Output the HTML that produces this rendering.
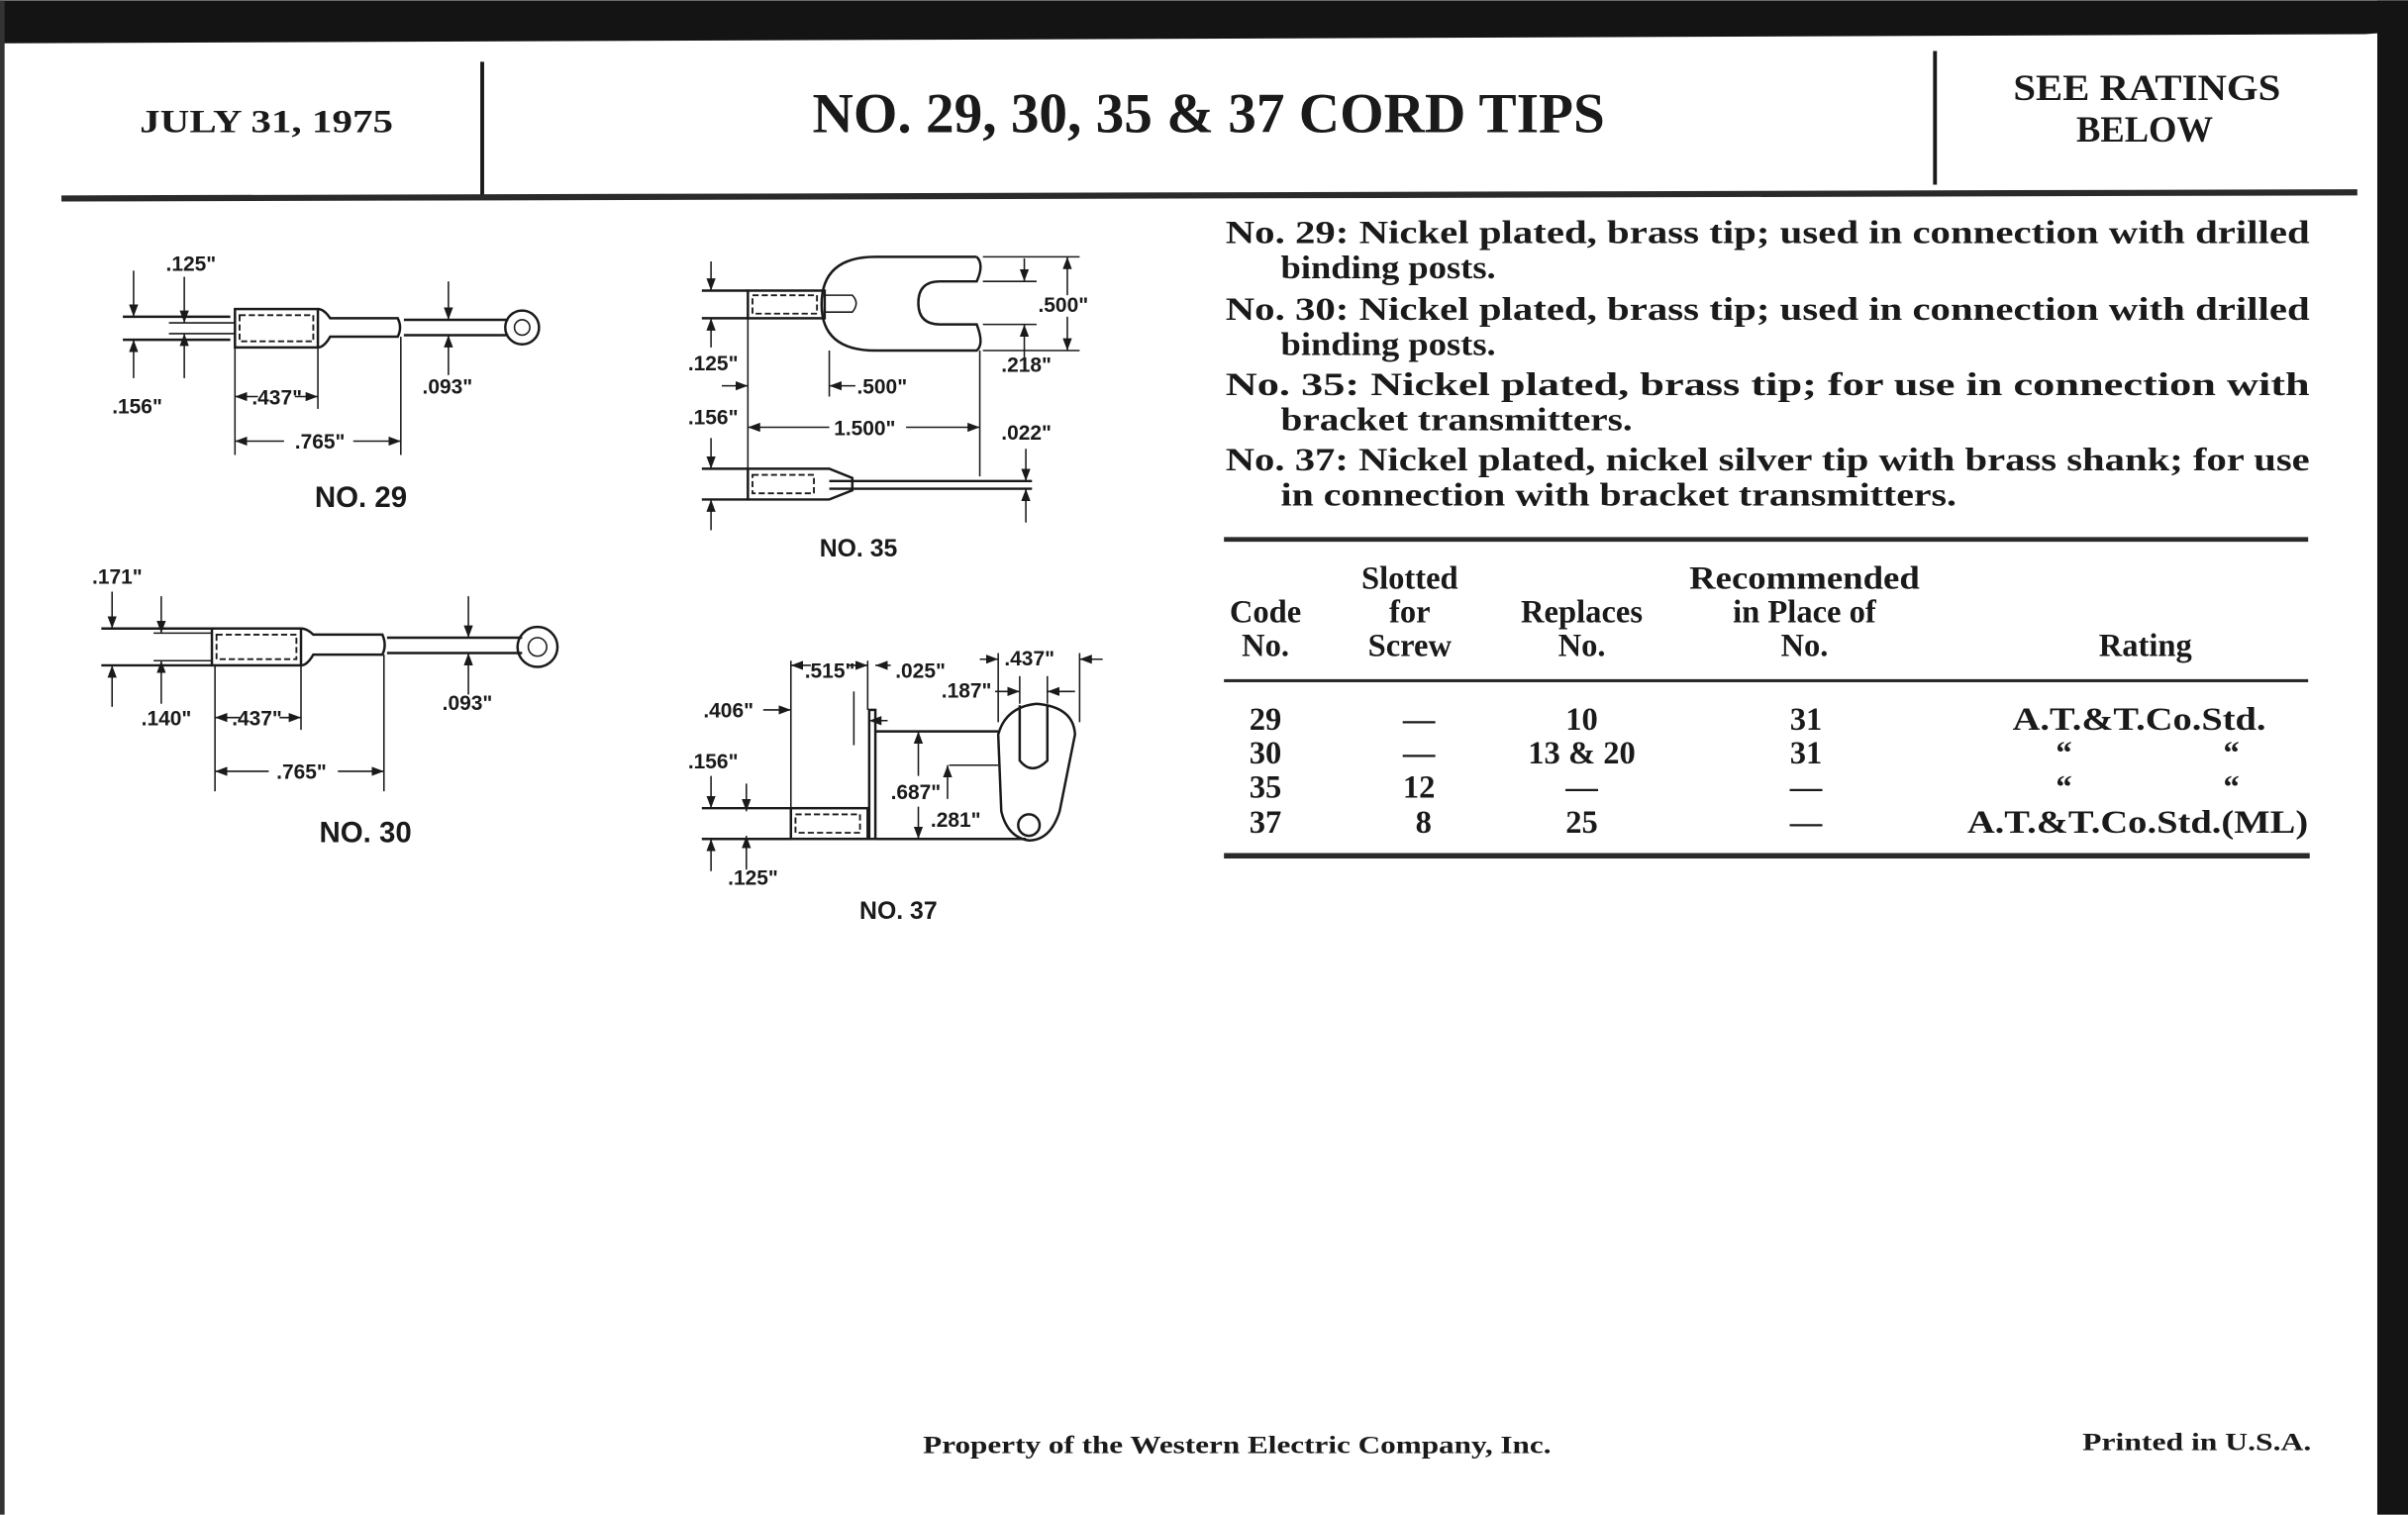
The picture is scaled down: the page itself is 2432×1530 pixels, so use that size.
<!DOCTYPE html>
<html><head><meta charset="utf-8"><style>
html,body{margin:0;padding:0;background:#fff}
svg{display:block}
.s{font-family:"Liberation Serif",serif;font-weight:bold;fill:#1a1a1a}
.d{font-family:"Liberation Sans",sans-serif;font-weight:bold;fill:#1a1a1a;font-size:13.5px}
.l{stroke:#1a1a1a;stroke-width:1.6;fill:none}
.t{stroke:#1a1a1a;stroke-width:1;fill:none}
.dash{stroke:#1a1a1a;stroke-width:1.2;fill:none;stroke-dasharray:4 2}
</style></head><body>
<svg width="2432" height="1530" viewBox="0 0 1568 986" xmlns="http://www.w3.org/2000/svg">
<defs>
<marker id="a" markerWidth="8" markerHeight="6" refX="8" refY="3" orient="auto" markerUnits="userSpaceOnUse"><path d="M0,0 L8,3 L0,6 z" fill="#1a1a1a"/></marker>
</defs>
<rect width="1568" height="986" fill="#fff"/>
<polygon points="0,0 1568,0 1568,20 1540,22 0,28" fill="#141414"/>
<rect x="1548" y="0" width="20" height="986" fill="#141414"/>
<rect x="0" y="0" width="3" height="986" fill="#333"/>

<!-- header -->
<text class="s" x="91" y="86" font-size="21" textLength="165" lengthAdjust="spacingAndGlyphs">JULY 31, 1975</text>
<line x1="314" y1="40" x2="314" y2="128" stroke="#1a1a1a" stroke-width="2.5"/>
<text class="s" x="529" y="86" font-size="37" textLength="516" lengthAdjust="spacingAndGlyphs">NO. 29, 30, 35 &amp; 37 CORD TIPS</text>
<line x1="1260" y1="33" x2="1260" y2="120" stroke="#1a1a1a" stroke-width="2.5"/>
<text class="s" x="1311" y="65" font-size="24" textLength="174" lengthAdjust="spacingAndGlyphs">SEE RATINGS</text>
<text class="s" x="1352" y="92" font-size="24" textLength="89" lengthAdjust="spacingAndGlyphs">BELOW</text>
<line x1="40" y1="129" x2="1535" y2="125" stroke="#2a2a2a" stroke-width="4"/>

<!-- paragraphs -->
<g class="s" font-size="21">
<text x="798" y="158" textLength="706" lengthAdjust="spacingAndGlyphs">No. 29: Nickel plated, brass tip; used in connection with drilled</text>
<text x="834" y="181" textLength="140" lengthAdjust="spacingAndGlyphs">binding posts.</text>
<text x="798" y="208" textLength="706" lengthAdjust="spacingAndGlyphs">No. 30: Nickel plated, brass tip; used in connection with drilled</text>
<text x="834" y="231" textLength="140" lengthAdjust="spacingAndGlyphs">binding posts.</text>
<text x="798" y="257" textLength="706" lengthAdjust="spacingAndGlyphs">No. 35: Nickel plated, brass tip; for use in connection with</text>
<text x="834" y="280" textLength="229" lengthAdjust="spacingAndGlyphs">bracket transmitters.</text>
<text x="798" y="306" textLength="706" lengthAdjust="spacingAndGlyphs">No. 37: Nickel plated, nickel silver tip with brass shank; for use</text>
<text x="834" y="329" textLength="440" lengthAdjust="spacingAndGlyphs">in connection with bracket transmitters.</text>
</g>

<!-- table -->
<line x1="797" y1="351" x2="1503" y2="351" stroke="#2a2a2a" stroke-width="3"/>
<g class="s" font-size="21" text-anchor="middle">
<text x="824" y="405">Code</text><text x="824" y="427">No.</text>
<text x="918" y="383">Slotted</text><text x="918" y="405">for</text><text x="918" y="427">Screw</text>
<text x="1030" y="405">Replaces</text><text x="1030" y="427">No.</text>
<text x="1175" y="383" textLength="150" lengthAdjust="spacingAndGlyphs">Recommended</text><text x="1175" y="405">in Place of</text><text x="1175" y="427">No.</text>
<text x="1397" y="427">Rating</text>
</g>
<line x1="797" y1="443" x2="1503" y2="443" stroke="#2a2a2a" stroke-width="2"/>
<g class="s" font-size="21" text-anchor="middle">
<text x="824" y="475">29</text><text x="924" y="475">—</text><text x="1030" y="475">10</text><text x="1176" y="475">31</text>
<text x="1393" y="475" textLength="165" lengthAdjust="spacingAndGlyphs">A.T.&amp;T.Co.Std.</text>
<text x="824" y="497">30</text><text x="924" y="497">—</text><text x="1030" y="497">13 &amp; 20</text><text x="1176" y="497">31</text>
<text x="1344" y="497">“</text><text x="1453" y="497">“</text>
<text x="824" y="519">35</text><text x="924" y="519">12</text><text x="1030" y="519">—</text><text x="1176" y="519">—</text>
<text x="1344" y="519">“</text><text x="1453" y="519">“</text>
<text x="824" y="542">37</text><text x="927" y="542">8</text><text x="1030" y="542">25</text><text x="1176" y="542">—</text>
<text x="1392" y="542" textLength="222" lengthAdjust="spacingAndGlyphs">A.T.&amp;T.Co.Std.(ML)</text>
</g>
<line x1="797" y1="557" x2="1504" y2="557" stroke="#2a2a2a" stroke-width="3.5"/>

<!-- footer -->
<text class="s" x="601" y="946" font-size="16" textLength="409" lengthAdjust="spacingAndGlyphs">Property of the Western Electric Company, Inc.</text>
<text class="s" x="1356" y="944" font-size="16" textLength="149" lengthAdjust="spacingAndGlyphs">Printed in U.S.A.</text>

<!-- NO.29 -->
<g>
<line class="l" x1="80" y1="206" x2="150" y2="206"/><line class="l" x1="80" y1="221" x2="150" y2="221"/>
<line class="t" x1="110" y1="210" x2="153" y2="210"/><line class="t" x1="110" y1="217" x2="153" y2="217"/>
<line class="t" x1="87" y1="176" x2="87" y2="206" marker-end="url(#a)"/><line class="t" x1="87" y1="246" x2="87" y2="221" marker-end="url(#a)"/>
<line class="t" x1="120" y1="180" x2="120" y2="210" marker-end="url(#a)"/><line class="t" x1="120" y1="246" x2="120" y2="217" marker-end="url(#a)"/>
<rect class="l" x="153" y="201" width="54" height="25"/>
<rect class="dash" x="156" y="205" width="48" height="17"/>
<path class="l" d="M207,201 Q211,201 215,207 L259,207 Q262,213 259,219 L215,219 Q211,226 207,226"/>
<path class="l" d="M263,208 L331,208 M263,218 L331,218"/>
<circle class="l" cx="340" cy="213" r="11" stroke-width="2.4"/><circle class="t" cx="340" cy="213" r="5"/>
<line class="t" x1="292" y1="183" x2="292" y2="208" marker-end="url(#a)"/><line class="t" x1="292" y1="244" x2="292" y2="218" marker-end="url(#a)"/>
<line class="t" x1="153" y1="226" x2="153" y2="296"/><line class="t" x1="207" y1="226" x2="207" y2="266"/><line class="t" x1="261" y1="219" x2="261" y2="296"/>
<line class="t" x1="168" y1="258" x2="153" y2="258" marker-end="url(#a)"/><line class="t" x1="192" y1="258" x2="207" y2="258" marker-end="url(#a)"/>
<line class="t" x1="185" y1="287" x2="153" y2="287" marker-end="url(#a)"/><line class="t" x1="230" y1="287" x2="261" y2="287" marker-end="url(#a)"/>
<text class="d" x="108" y="176">.125"</text><text class="d" x="73" y="269">.156"</text>
<text class="d" x="275" y="256">.093"</text>
<text class="d" x="164" y="263">.437"</text><text class="d" x="192" y="292">.765"</text>
<text class="d" x="235" y="330" style="font-size:19px" text-anchor="middle">NO. 29</text>
</g>

<!-- NO.30 -->
<g>
<line class="l" x1="66" y1="409" x2="138" y2="409"/><line class="l" x1="66" y1="433" x2="138" y2="433"/>
<line class="t" x1="100" y1="412" x2="138" y2="412"/><line class="t" x1="100" y1="430" x2="138" y2="430"/>
<line class="t" x1="73" y1="385" x2="73" y2="409" marker-end="url(#a)"/><line class="t" x1="73" y1="460" x2="73" y2="433" marker-end="url(#a)"/>
<line class="t" x1="105" y1="388" x2="105" y2="412" marker-end="url(#a)"/><line class="t" x1="105" y1="458" x2="105" y2="430" marker-end="url(#a)"/>
<rect class="l" x="138" y="409" width="58" height="24"/>
<rect class="dash" x="141" y="413" width="52" height="16"/>
<path class="l" d="M196,409 Q200,409 204,413 L249,413 Q252,420 249,426 L204,426 Q200,433 196,433"/>
<path class="l" d="M252,415 L340,415 M252,425 L340,425"/>
<circle class="l" cx="350" cy="421" r="13" stroke-width="2.6"/><circle class="t" cx="350" cy="421" r="6"/>
<line class="t" x1="305" y1="388" x2="305" y2="415" marker-end="url(#a)"/><line class="t" x1="305" y1="452" x2="305" y2="425" marker-end="url(#a)"/>
<line class="t" x1="140" y1="433" x2="140" y2="515"/><line class="t" x1="196" y1="433" x2="196" y2="475"/><line class="t" x1="250" y1="426" x2="250" y2="515"/>
<line class="t" x1="156" y1="467" x2="140" y2="467" marker-end="url(#a)"/><line class="t" x1="182" y1="467" x2="196" y2="467" marker-end="url(#a)"/>
<line class="t" x1="175" y1="502" x2="140" y2="502" marker-end="url(#a)"/><line class="t" x1="220" y1="502" x2="250" y2="502" marker-end="url(#a)"/>
<text class="d" x="60" y="380">.171"</text><text class="d" x="92" y="472">.140"</text>
<text class="d" x="288" y="462">.093"</text>
<text class="d" x="151" y="472">.437"</text><text class="d" x="180" y="507">.765"</text>
<text class="d" x="238" y="548" style="font-size:19px" text-anchor="middle">NO. 30</text>
</g>

<!-- NO.35 -->
<g>
<line class="l" x1="457" y1="189" x2="487" y2="189"/><line class="l" x1="457" y1="207" x2="487" y2="207"/>
<line class="t" x1="463" y1="170" x2="463" y2="189" marker-end="url(#a)"/><line class="t" x1="463" y1="226" x2="463" y2="207" marker-end="url(#a)"/>
<rect class="l" x="487" y="189" width="50" height="18"/>
<rect class="dash" x="490" y="192" width="42" height="12"/>
<path class="l" d="M636,167 L570,167 Q535,167 535,198 Q535,228 570,228 L636,228 Q641,224 636,211 L612,211 Q598,211 598,197 Q598,183 612,183 L636,183 Q641,172 636,167"/>
<path class="t" d="M537,192 L555,192 Q560,197 555,203 L537,203"/>
<line class="t" x1="640" y1="167" x2="703" y2="167"/><line class="t" x1="640" y1="183" x2="675" y2="183"/>
<line class="t" x1="640" y1="211" x2="675" y2="211"/><line class="t" x1="640" y1="228" x2="703" y2="228"/>
<line class="t" x1="695" y1="192" x2="695" y2="167" marker-end="url(#a)"/><line class="t" x1="695" y1="206" x2="695" y2="228" marker-end="url(#a)"/>
<line class="t" x1="667" y1="168" x2="667" y2="183" marker-end="url(#a)"/><line class="t" x1="667" y1="240" x2="667" y2="211" marker-end="url(#a)"/>
<line class="t" x1="487" y1="207" x2="487" y2="305"/><line class="t" x1="540" y1="228" x2="540" y2="258"/><line class="t" x1="638" y1="228" x2="638" y2="310"/>
<line class="t" x1="470" y1="251" x2="487" y2="251" marker-end="url(#a)"/>
<line class="t" x1="557" y1="251" x2="540" y2="251" marker-end="url(#a)"/>
<line class="t" x1="540" y1="278" x2="487" y2="278" marker-end="url(#a)"/><line class="t" x1="590" y1="278" x2="638" y2="278" marker-end="url(#a)"/>
<line class="l" x1="457" y1="305" x2="487" y2="305"/><line class="l" x1="457" y1="325" x2="487" y2="325"/>
<line class="t" x1="463" y1="285" x2="463" y2="305" marker-end="url(#a)"/><line class="t" x1="463" y1="345" x2="463" y2="325" marker-end="url(#a)"/>
<path class="l" d="M487,305 L540,305 L555,311 L555,319 L540,325 L487,325 Z"/>
<rect class="dash" x="490" y="309" width="40" height="12"/>
<path class="l" d="M540,313 L672,313 M540,318 L672,318"/>
<line class="t" x1="668" y1="292" x2="668" y2="313" marker-end="url(#a)"/><line class="t" x1="668" y1="340" x2="668" y2="318" marker-end="url(#a)"/>
<text class="d" x="448" y="241">.125"</text><text class="d" x="448" y="276">.156"</text>
<text class="d" x="676" y="203">.500"</text><text class="d" x="652" y="242">.218"</text><text class="d" x="652" y="286">.022"</text>
<text class="d" x="558" y="256">.500"</text><text class="d" x="543" y="283">1.500"</text>
<text class="d" x="559" y="362" style="font-size:16px" text-anchor="middle">NO. 35</text>
</g>

<!-- NO.37 -->
<g>
<line class="l" x1="457" y1="526" x2="515" y2="526"/><line class="l" x1="457" y1="546" x2="515" y2="546"/>
<line class="t" x1="463" y1="505" x2="463" y2="526" marker-end="url(#a)"/><line class="t" x1="463" y1="567" x2="463" y2="546" marker-end="url(#a)"/>
<line class="t" x1="486" y1="510" x2="486" y2="528" marker-end="url(#a)"/><line class="t" x1="486" y1="566" x2="486" y2="544" marker-end="url(#a)"/>
<rect class="l" x="515" y="526" width="50" height="20"/>
<rect class="dash" x="518" y="530" width="42" height="12"/>
<rect class="l" x="566" y="462" width="4" height="84"/>
<line class="l" x1="570" y1="476" x2="650" y2="476"/><line class="l" x1="570" y1="546" x2="668" y2="546"/>
<path class="l" d="M650,478 Q655,460 675,458 Q699,460 700,478 L690,528 Q684,547 670,547 Q656,545 652,528 Z"/>
<path class="l" d="M664,459 L664,495 Q672,505 682,495 L682,459"/>
<circle class="l" cx="670" cy="537" r="7" stroke-width="2.4"/>
<line class="t" x1="515" y1="430" x2="515" y2="526"/><line class="t" x1="565" y1="430" x2="565" y2="462"/><line class="t" x1="556" y1="450" x2="556" y2="485"/>
<line class="t" x1="528" y1="433" x2="515" y2="433" marker-end="url(#a)"/><line class="t" x1="552" y1="433" x2="565" y2="433" marker-end="url(#a)"/>
<line class="t" x1="580" y1="433" x2="570" y2="433" marker-end="url(#a)"/>
<line class="t" x1="650" y1="425" x2="650" y2="470"/><line class="t" x1="703" y1="425" x2="703" y2="470"/>
<line class="t" x1="638" y1="429" x2="650" y2="429" marker-end="url(#a)"/><line class="t" x1="718" y1="429" x2="703" y2="429" marker-end="url(#a)"/>
<line class="t" x1="664" y1="440" x2="664" y2="458"/><line class="t" x1="682" y1="440" x2="682" y2="458"/>
<line class="t" x1="648" y1="450" x2="664" y2="450" marker-end="url(#a)"/><line class="t" x1="700" y1="450" x2="682" y2="450" marker-end="url(#a)"/>
<line class="t" x1="497" y1="462" x2="515" y2="462" marker-end="url(#a)"/>
<line class="t" x1="578" y1="469" x2="566" y2="469" marker-end="url(#a)"/>
<line class="t" x1="598" y1="505" x2="598" y2="476" marker-end="url(#a)"/><line class="t" x1="598" y1="525" x2="598" y2="546" marker-end="url(#a)"/>
<line class="t" x1="618" y1="498" x2="650" y2="498"/>
<line class="t" x1="617" y1="520" x2="617" y2="498" marker-end="url(#a)"/>
<text class="d" x="458" y="467">.406"</text><text class="d" x="448" y="500">.156"</text><text class="d" x="474" y="576">.125"</text>
<text class="d" x="524" y="441">.515"</text><text class="d" x="583" y="441">.025"</text>
<text class="d" x="654" y="433">.437"</text><text class="d" x="613" y="454">.187"</text>
<text class="d" x="580" y="520">.687"</text><text class="d" x="606" y="538">.281"</text>
<text class="d" x="585" y="598" style="font-size:16px" text-anchor="middle">NO. 37</text>
</g>
</svg>
</body></html>
